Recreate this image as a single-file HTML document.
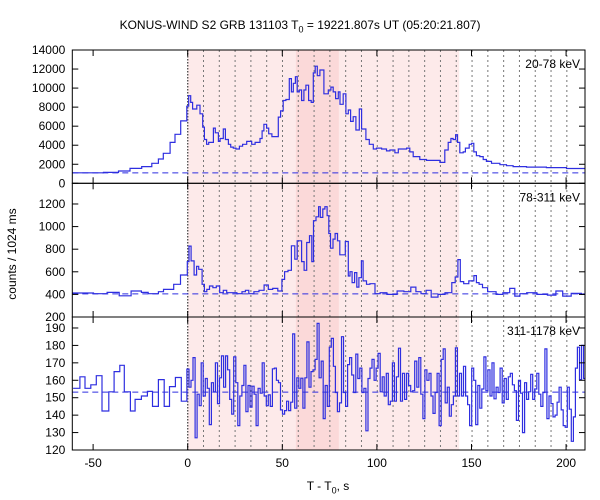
<!DOCTYPE html>
<html><head><meta charset="utf-8"><style>
html,body{margin:0;padding:0;background:#fff;}
svg{display:block;font-family:"Liberation Sans",sans-serif;}
</style></head><body>
<svg id="chart" width="600" height="500" viewBox="0 0 600 500">
<defs><clipPath id="plotclip"><rect x="72.3" y="50" width="512.7" height="400"/></clipPath></defs>
<g id="bg"></g><g id="grid"></g><g id="series" clip-path="url(#plotclip)"></g><g id="axes"></g><g id="labels"></g>
</svg>
<script>
// ---- data ----
const topStart=[-60.9,-44.5,-36.6,-30.5,-24.3,-19.0,-15.5,-12.9,-9.3,-6.7,-3.7,-0.5,0.5,1.6,2.6,4.8,6.5,7.9,8.8,10.0,11.1,13.6,14.6,16.2,17.1,18.8,19.9,21.5,22.7,24.1,25.5,27.3,29.0,31.2,33.8,35.6,38.2,39.3,40.3,41.7,42.8,44.5,47.9,49.1,50.5,51.9,53.7,54.8,55.8,56.9,57.9,59.0,60.2,61.4,62.5,63.9,65.3,66.4,67.4,68.5,69.9,72.0,74.3,75.7,76.9,78.2,79.6,80.5,82.2,83.6,84.9,86.1,87.5,88.9,90.7,91.9,94.2,96.0,98.1,99.8,102.5,105.1,106.9,109.5,111.3,113.9,115.7,117.4,119.2,122.7,126.2,129.8,133.3,135.9,137.7,139.1,140.3,141.6,142.6,143.8,145.6,146.8,147.7,148.8,150.0,151.2,152.6,154.4,156.2,157.9,160.6,165.0,168.5,172.0,179.1,189.6,200.2];
const topCounts=[1100,1150,1290,1570,1750,2100,2550,3150,4300,5150,6550,8100,9200,8500,7800,8200,7300,5900,4600,4100,4300,5800,5300,4400,4700,5700,4600,4100,3800,3700,3600,3900,4100,4400,4100,4300,4700,5500,6200,5800,5200,4900,6950,7600,8700,8800,11000,9600,10500,11200,9600,9800,8700,9800,10300,8700,8500,11600,12300,11300,11900,9400,9800,10100,9600,8900,9600,8300,9400,7300,7700,6500,7000,5600,7800,5700,4600,4100,3600,3700,3600,3400,3500,3200,3600,3600,3700,3300,2800,2500,2400,2400,2200,3500,4300,4700,4600,5100,4300,3200,3300,3700,3700,4100,4200,3300,2900,2800,2500,2300,2100,1950,1850,1750,1700,1650,1550];
const midStart=[-61.1,-49.8,-42.6,-36.2,-29.9,-24.5,-20.9,-15.5,-12.8,-7.4,-3.8,-0.2,0.7,1.8,3.4,4.7,5.8,7.6,8.8,10.1,11.5,13.3,15.1,16.9,18.8,20.6,26.0,28.7,30.5,32.3,35.0,37.7,40.4,42.6,44.9,47.6,49.8,51.2,53.0,54.8,56.6,57.9,60.2,61.5,62.9,64.4,65.6,66.5,67.8,69.2,70.1,71.4,72.5,73.7,74.6,75.5,76.8,77.9,79.2,80.4,81.9,83.3,84.9,85.8,86.9,88.2,89.4,90.5,91.8,92.7,94.5,96.3,99.0,101.7,105.3,110.7,114.3,117.9,120.6,123.3,126.0,128.7,132.3,136.0,139.6,141.4,142.8,144.1,145.9,148.6,151.3,152.6,154.0,155.8,158.5,163.0,166.6,170.2,172.9,175.6,179.2,184.6,190.1,194.6,198.2,202.7,208.1];
const midCounts=[412,406,418,388,430,418,406,424,444,489,572,690,827,696,572,649,622,489,424,444,474,459,474,415,436,415,406,424,436,406,424,436,483,444,453,430,533,601,613,830,711,874,690,613,859,919,690,1052,1087,1176,1081,1156,1176,1096,939,809,889,939,874,750,750,868,563,601,504,593,465,548,696,519,489,495,406,415,400,430,424,465,424,406,436,376,400,415,504,554,708,513,495,519,566,504,489,459,424,400,415,453,385,406,415,400,394,430,385,409,400];
const lowPreStart=[-60.6,-57.0,-54.3,-51.2,-48.3,-45.3,-41.7,-38.9,-35.9,-33.5,-30.3,-27.8,-24.5,-21.3,-18.6,-15.5,-12.4,-9.6,-6.5,-3.4];
const lowPreCounts=[155.4,162,155.4,157.4,162.6,142.4,153.4,165,168.6,153.4,142.4,149,151,153.6,145,160.4,145,156.4,161.6,148];
const lowFineStartTime=-0.4;
const lowFineBinWidth=1.075;
const lowFineCounts=[166.4,156,160,173,127,152,145.4,170,151,161,155.4,134.6,158.6,153.4,170,146.6,161.4,174,156,174,166,149,140.6,173.4,158.6,134,151,157,168.6,142,157,144.6,156.6,152,134,155.4,152.6,170,151,145.4,151.6,145,166.6,167,160,158.6,143,140.6,142.6,148,142.6,147.4,186.6,144,161.4,155.4,161.2,144,161.4,182,156,165,166,172,192.6,161.4,171,138,157,145,179,184,168,153,142,147,185,153,145,169,173,163,153,175,161,167,153,155.4,131,161,167,172,160,167,175.4,153.4,162,151,164,146,148,170,148,162,178.4,148,164,149,164,157,153.4,154,171,156,173,152,138,166,160,164,151,141,153,164,134,172,178,147,156,139.4,146,151,178.6,151,164,151,168,151,146,134,167,160,134.6,157,144,155,173.4,154,166,151,170,149.4,156,153,167,147,161,149,162,164,157.4,154,137,160,152.6,130,158.6,149,153.4,163.4,149,155,164,152,145,153,178,138,151,146.6,139,140,147.4,156,143,134,133,156,143.4,125,139,167,179,160.4,180,161];
const topBackground=1100, midBackground=405, lowBackground=153.2;
const xTicks=[-50,0,50,100,150,200];
const topTicks=[0,2000,4000,6000,8000,10000,12000,14000];
const midTicks=[200,400,600,800,1000,1200];
const lowTicks=[120,130,140,150,160,170,180,190];
const intervalStep=8.35, intervalCount=24;
const lightShade=[0,143.5], darkShade=[57.2,79.9];

// ---- scales ----
const NS='http://www.w3.org/2000/svg';
const L=72.3,R=585,T=50,D1=183.3,D2=317,B=450;
const tMin=-61,tMax=210;
const x=t=>L+(t-tMin)*(R-L)/(tMax-tMin);
const yTop=v=>D1-(v-0)*(D1-T)/14000;
const yMid=v=>D2-(v-200)*(D2-D1)/1183;
const yLow=v=>B-(v-120)*(B-D2)/76.3;
function mk(tag,attrs,parent){const e=document.createElementNS(NS,tag);for(const k in attrs)e.setAttribute(k,attrs[k]);parent.appendChild(e);return e;}
const bg=document.getElementById('bg'),grid=document.getElementById('grid'),ser=document.getElementById('series'),ax=document.getElementById('axes'),lab=document.getElementById('labels');

let r1=mk('rect',{x:x(lightShade[0]),y:T,width:x(lightShade[1])-x(lightShade[0]),height:B-T,fill:'#fdeaea'},bg);


let r2=mk('rect',{x:x(darkShade[0]),y:T,width:x(darkShade[1])-x(darkShade[0]),height:B-T,fill:'#fbd9d9'},bg);



for(let k=0;k<=intervalCount;k++){
  const xx=x(k*intervalStep);
  const ln=mk('line',{x1:xx,x2:xx,y1:T,y2:B,stroke:k===0?'#555':'#777','stroke-width':k===0?1.4:1,'stroke-dasharray':k===0?'1.5,1.5':'2,3'},grid);
  
  
}

function hist(starts,vals,yf,name){
  let d='';
  for(let i=0;i<vals.length;i++){
    const x0=x(starts[i]),x1=x(i+1<starts.length?starts[i+1]:tMax);
    const yy=yf(vals[i]).toFixed(1);
    d+=(i===0?'M'+x0.toFixed(1)+','+yy:'V'+yy)+'H'+x1.toFixed(1);
  }
  const p=mk('path',{d:d,fill:'none',stroke:'#2e2ee0','stroke-width':1.2},ser);
  
  
}
hist(topStart,topCounts,yTop,'series-20-78kev');
hist(midStart,midCounts,yMid,'series-78-311kev');
const lowStarts=lowPreStart.concat(lowFineCounts.map((_,i)=>lowFineStartTime+i*lowFineBinWidth));
const lowVals=lowPreCounts.concat(lowFineCounts);
hist(lowStarts,lowVals,yLow,'series-311-1178kev');

[[yTop(topBackground),'background-20-78kev'],[yMid(midBackground),'background-78-311kev'],[yLow(lowBackground),'background-311-1178kev']].forEach(([yy,n])=>{
  const l=mk('line',{x1:L,x2:R,y1:yy,y2:yy,stroke:'#2e2ee0','stroke-width':1,'stroke-dasharray':'6,4'},ser);
  
  
});

[[T,D1],[D1,D2],[D2,B]].forEach(([a,b],i)=>{
  const f=mk('rect',{x:L,y:a,width:R-L,height:b-a,fill:'none',stroke:'#000','stroke-width':1},ax);
  
  
  xTicks.forEach(t=>{
    mk('line',{x1:x(t),x2:x(t),y1:b,y2:b-6,stroke:'#000'},ax);
    mk('line',{x1:x(t),x2:x(t),y1:a,y2:a+6,stroke:'#000'},ax);
  });
});
function yAxis(ticks,yf,name){
  ticks.forEach(v=>{
    const yy=yf(v);
    mk('line',{x1:L,x2:L+6,y1:yy,y2:yy,stroke:'#000'},ax);
    mk('line',{x1:R,x2:R-6,y1:yy,y2:yy,stroke:'#000'},ax);
    const tx=mk('text',{x:L-7,y:yy+4,'text-anchor':'end','font-size':12,fill:'#000'},lab);
    tx.textContent=v;
    
    
  });
}
yAxis(topTicks,yTop,'y-top');
yAxis(midTicks,yMid,'y-mid');
yAxis(lowTicks,yLow,'y-low');
xTicks.forEach(t=>{
  const tx=mk('text',{x:x(t),y:B+17,'text-anchor':'middle','font-size':12,fill:'#000'},lab);
  tx.textContent=t;
  
  
});
[['20-78 keV',T+18,'label-20-78kev'],['78-311 keV',D1+18,'label-78-311kev'],['311-1178 keV',D2+18,'label-311-1178kev']].forEach(([s,yy,n])=>{
  const tx=mk('text',{x:R-5,y:yy,'text-anchor':'end','font-size':12,fill:'#000'},lab);
  tx.textContent=s;
  
  
});
</script>
<div style="position:absolute;left:0;top:0;width:600px;height:500px;pointer-events:none;font-family:'Liberation Sans',sans-serif;color:#000">
<div style="position:absolute;left:0;width:600px;top:18px;text-align:center;font-size:12px">KONUS-WIND S2 GRB 131103 T<sub style="font-size:9px">0</sub> = 19221.807s UT (05:20:21.807)</div>
<div style="position:absolute;left:0;width:656px;top:479px;text-align:center;font-size:12px">T - T<sub style="font-size:9px">0</sub>, s</div>
<div style="position:absolute;left:-38px;top:247px;width:100px;text-align:center;font-size:12px;transform:rotate(-90deg)">counts / 1024 ms</div>
</div>
</body></html>
